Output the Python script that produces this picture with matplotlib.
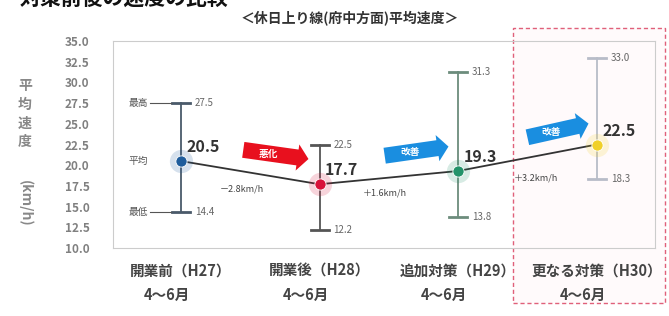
import matplotlib.pyplot as plt
from matplotlib.patches import Rectangle

plt.rcParams['font.family'] = ['Noto Sans CJK JP', 'DejaVu Sans']

# data
categories = ['開業前（H27）', '開業後（H28）', '追加対策（H29）', '更なる対策（H30）']
periods = ['4～6月', '4～6月', '4～6月', '4～6月']
mean_speed = [20.5, 17.7, 19.3, 22.5]
max_speed = [27.5, 22.5, 31.3, 33.0]
min_speed = [14.4, 12.2, 13.8, 18.3]
diff_labels = ['－2.8km/h', '＋1.6km/h', '＋3.2km/h']
arrow_texts = ['悪化', '改善', '改善']
y_ticks = [10.0, 12.5, 15.0, 17.5, 20.0, 22.5, 25.0, 27.5, 30.0, 32.5, 35.0]

marker_colors = ['#1f5d9c', '#d8123a', '#23936a', '#f0d028']
whisker_colors = ['#4a5a6a', '#555555', '#6c8c7c', '#b8bcc8']
arrow_colors = ['#e8101e', '#1a8ee0', '#1a8ee0']

fig = plt.figure(figsize=(6.69, 3.16), dpi=100)
ax = fig.add_axes([113 / 669, 68 / 316, 542 / 669, 207 / 316])
ax.set_facecolor('none')

x = list(range(len(categories)))

# whiskers (max/min)
for i in x:
    ax.plot([i, i], [min_speed[i], max_speed[i]], color=whisker_colors[i], lw=1.3, zorder=2)
    for v in (min_speed[i], max_speed[i]):
        ax.plot([i - 0.065, i + 0.065], [v, v], color=whisker_colors[i], lw=2.0, zorder=2)

# mean line and markers
ax.plot(x, mean_speed, color='#333333', lw=1.3, zorder=3)
for i in x:
    ax.scatter(i, mean_speed[i], s=280, color=marker_colors[i], alpha=0.18, lw=0, zorder=3)
    ax.scatter(i, mean_speed[i], s=65, color=marker_colors[i], edgecolor='white', lw=0.6, zorder=4)

# value labels
for i in x:
    ax.annotate(f'{max_speed[i]:.1f}', (i, max_speed[i]), xytext=(10, 0), textcoords='offset points',
                va='center', ha='left', fontsize=7, color='#666666')
    ax.annotate(f'{min_speed[i]:.1f}', (i, min_speed[i]), xytext=(10, 0), textcoords='offset points',
                va='center', ha='left', fontsize=7, color='#666666')
    ax.annotate(f'{mean_speed[i]:.1f}', (i, mean_speed[i]), xytext=(4, 10), textcoords='offset points',
                va='center', ha='left', fontsize=11.5, fontweight='bold', color='#333333')

# legend-like labels on the left of the first point
for txt, v in zip(['最高', '平均', '最低'], [max_speed[0], mean_speed[0], min_speed[0]]):
    ax.annotate(txt, (0, v), xytext=(-24, 0), textcoords='offset points',
                va='center', ha='right', fontsize=7, color='#555555')
    if txt != '平均':
        ax.plot([-0.22, -0.07], [v, v], color='#555555', lw=0.8, zorder=2)

# change labels
diff_pos = [(0.44, 17.1), (1.47, 16.7), (2.56, 18.5)]
for (dx, dy), txt in zip(diff_pos, diff_labels):
    ax.text(dx, dy, txt, fontsize=6.5, color='#444444', ha='center', va='center')

# fat arrows between the periods
arrow_pos = [((0.43, 21.9), (0.94, 20.7)),
             ((1.45, 21.1), (1.95, 22.3)),
             ((2.48, 23.3), (2.96, 25.1))]
for (start, end), col, txt in zip(arrow_pos, arrow_colors, arrow_texts):
    ax.annotate('', xy=end, xytext=start,
                arrowprops=dict(arrowstyle='simple,head_length=0.8,head_width=1.9,tail_width=1.15',
                                color=col, lw=0), zorder=5)
    mx = start[0] + (end[0] - start[0]) * 0.4
    my = start[1] + (end[1] - start[1]) * 0.4
    ax.text(mx, my, txt, fontsize=7, color='white', ha='center', va='center', fontweight='bold', zorder=6)

ax.set_xlim(-0.49, 3.42)
ax.set_ylim(10, 35)
ax.set_yticks(y_ticks)
ax.set_yticklabels([f'{v:.1f}' for v in y_ticks], fontsize=8.5, color='#808080', fontweight='bold')
ax.tick_params(axis='y', length=0, pad=17)
ax.set_xticks([])
for s in ax.spines.values():
    s.set_color('#cccccc')
    s.set_linewidth(0.8)

# y-axis label written vertically
fig.text(25 / 669, 1 - 114 / 316, '平\n均\n速\n度', fontsize=10, color='#888888',
         ha='center', va='center', linespacing=1.45, fontweight='bold')
fig.text(25 / 669, 1 - 203 / 316, '(km/h)', fontsize=10, color='#888888', rotation=-90,
         ha='center', va='center', fontweight='bold')

# category labels under the axis
for i in x:
    ax.annotate(categories[i], (i, 10), xytext=(0, -16.5), textcoords='offset points',
                ha='center', va='center', fontsize=10.5, fontweight='bold', color='#444444',
                annotation_clip=False)
    ax.annotate(periods[i], (i - 0.1, 10), xytext=(0, -34), textcoords='offset points',
                ha='center', va='center', fontsize=10.5, fontweight='bold', color='#444444',
                annotation_clip=False)

# highlight box around the last period
fig.patches.append(Rectangle((513 / 669, 1 - 303 / 316), 152 / 669, 275 / 316,
                             transform=fig.transFigure, fill=True, facecolor='#fffafb',
                             edgecolor='#e0607a', lw=1.0, ls=(0, (3, 2)), zorder=-1))

# titles
fig.text(350 / 669, 1 - 19 / 316, '＜休日上り線(府中方面)平均速度＞', fontsize=10,
         fontweight='bold', color='#333333', ha='center', va='center')
fig.text(20 / 669, 1 + 2 / 316, '対策前後の速度の比較', fontsize=15, fontweight='bold',
         color='#111111', ha='left', va='center')

fig.savefig('out.png', dpi=100)
